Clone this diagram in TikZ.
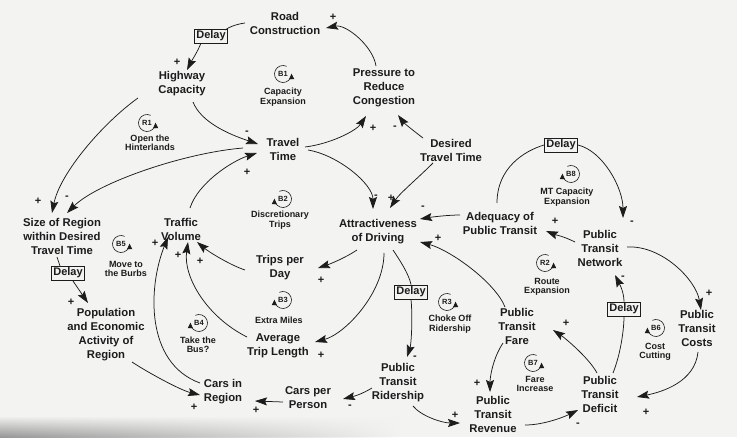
\documentclass[tikz,border=0pt]{standalone}
\usepackage{fontspec}
\setmainfont{Liberation Sans}
\usetikzlibrary{arrows.meta,calc,fadings}
\definecolor{paper}{RGB}{243,243,241}
\definecolor{ink}{RGB}{28,28,28}
\tikzfading[name=fadeR, left color=transparent!0, right color=transparent!100]
\begin{document}
\begin{tikzpicture}[x=1pt,y=-1pt,
  var/.style={font=\fontsize{11.3}{14}\selectfont\bfseries, align=center, text=ink, inner sep=0pt},
  sgn/.style={font=\fontsize{11}{12}\selectfont\bfseries, text=ink, inner sep=0pt},
  delaybox/.style={draw=ink, line width=0.6pt, font=\fontsize{11}{12}\selectfont\bfseries, text=ink, inner sep=2pt, minimum width=33pt, minimum height=13.5pt},
  looplbl/.style={font=\fontsize{9}{9.5}\selectfont\bfseries, align=center, text=ink, inner sep=0pt},
  loopsym/.style={font=\fontsize{7.5}{8}\selectfont\bfseries, text=ink, inner sep=0pt},
  arr/.style={draw=ink, line width=0.75pt, -{Stealth[length=12pt,width=8pt,inset=2pt]}},
  ln/.style={draw=ink, line width=0.75pt},
  looparr/.style={draw=ink, line width=0.6pt, -{Triangle[length=5.5pt,width=5pt]}},
]
\fill[paper] (0,0) rectangle (737,437);
\useasboundingbox (0,0) rectangle (737,437);
\shade[top color=paper, bottom color=gray!80!paper, path fading=fadeR] (0,416) rectangle (400,437);

% variables
\node[var] (rc) at (285,23) {Road\\Construction};
\node[var] (hc) at (182,84) {Highway\\Capacity};
\node[var] (pr) at (384,88) {Pressure to\\Reduce\\Congestion};
\node[var] (tt) at (283,149) {Travel\\Time};
\node[var] (dt) at (451,150) {Desired\\Travel Time};
\node[var] (sr) at (62,236) {Size of Region\\within Desired\\Travel Time};
\node[var] (tv) at (181,229) {Traffic\\Volume};
\node[var] (ad) at (378,232) {Attractiveness\\of Driving};
\node[var] (ap) at (500,223) {Adequacy of\\Public Transit};
\node[var] (pn) at (600,248) {Public\\Transit\\Network};
\node[var] (tp) at (280,268) {Trips per\\Day};
\node[var] (pe) at (106,335) {Population\\and Economic\\Activity of\\Region};
\node[var] (at) at (278,346) {Average\\Trip Length};
\node[var] (pc) at (697,328) {Public\\Transit\\Costs};
\node[var] (pf) at (517,326) {Public\\Transit\\Fare};
\node[var] (pd) at (600,394) {Public\\Transit\\Deficit};
\node[var] (prd) at (398,383) {Public\\Transit\\Ridership};
\node[var] (rev) at (493,414) {Public\\Transit\\Revenue};
\node[var] (cr) at (223,392) {Cars in\\Region};
\node[var] (cp) at (308,398) {Cars per\\Person};

% delays
\node[delaybox] (d1) at (211,36) {Delay};
\node[delaybox] (d2) at (68,273) {Delay};
\node[delaybox] (d3) at (561,145) {Delay};
\node[delaybox] (d4) at (411,292) {Delay};
\node[delaybox] (d5) at (624,309) {Delay};

% loop symbols and names
\node[loopsym] (B1) at (283,74) {B1};
\node[looplbl] (lB1) at (283,97) {Capacity\\Expansion};
\node[loopsym] (R1) at (147,123) {R1};
\node[looplbl] (lR1) at (150,143) {Open the\\Hinterlands};
\node[loopsym] (B2) at (283,199) {B2};
\node[looplbl] (lB2) at (280,220) {Discretionary\\Trips};
\node[loopsym] (B5) at (121,244) {B5};
\node[looplbl] (lB5) at (126,269) {Move to\\the Burbs};
\node[loopsym] (B3) at (283,300) {B3};
\node[looplbl] (lB3) at (279,320) {Extra Miles};
\node[loopsym] (B4) at (199,323) {B4};
\node[looplbl] (lB4) at (198,345) {Take the\\Bus?};
\node[loopsym] (B8) at (571,174) {B8};
\node[looplbl] (lB8) at (567,197) {MT Capacity\\Expansion};
\node[loopsym] (R2) at (545,263) {R2};
\node[looplbl] (lR2) at (547,287) {Route\\Expansion};
\node[loopsym] (R3) at (447,302) {R3};
\node[looplbl] (lR3) at (450,324) {Choke Off\\Ridership};
\node[loopsym] (B7) at (533,363) {B7};
\node[looplbl] (lB7) at (535,384) {Fare\\Increase};
\node[loopsym] (B6) at (656,328) {B6};
\node[looplbl] (lB6) at (655,352) {Cost\\Cutting};

\begin{scope}[y=1pt]
\foreach \n in {B1,R1,B5,R2,R3,B7}
  \draw[looparr] ([shift={(65:8.5)}]\n.center) arc[start angle=65,end angle=362,radius=8.5];
\foreach \n in {B2,B3,B4,B8,B6}
  \draw[looparr] ([shift={(115:8.5)}]\n.center) arc[start angle=115,end angle=-182,radius=8.5];
\end{scope}

% connectors
\draw[arr] ($(pr)+(-8,-22)$) .. controls +(-3,-20) and +(20,-4) .. ($(rc)+(41,5)$);
\draw[ln] ($(rc)+(-40,0)$) .. controls +(-8,1) and +(4,-3) .. ($(d1)+(14,-6)$);
\draw[arr] ($(d1)+(-10,7)$) .. controls +(-3,8) and +(4,-8) .. ($(hc)+(5,-14)$);
\draw[arr] ($(hc)+(11,18)$) .. controls +(8,20) and +(-30,-10) .. ($(tt)+(-25,-5)$);
\draw[arr] ($(hc)+(-44,14)$) .. controls +(-35,25) and +(8,-40) .. ($(sr)+(-10,-23)$);
\draw[arr] ($(tt)+(-40,-1)$) .. controls +(-60,5) and +(30,-30) .. ($(sr)+(5,-23)$);
\draw[arr] ($(tv)+(9,-21)$) .. controls +(8,-25) and +(-25,8) .. ($(tt)+(-26,4)$);
\draw[arr] ($(tt)+(22,-2)$) .. controls +(25,-3) and +(-10,15) .. ($(pr)+(-18,28)$);
\draw[arr] ($(dt)+(-28,-12)$) .. controls +(-8,-6) and +(6,8) .. ($(pr)+(14,27)$);
\draw[arr] ($(tt)+(25,1)$) .. controls +(30,5) and +(0,-25) .. ($(ad)+(-5,-23)$);
\draw[arr] ($(dt)+(-18,13)$) .. controls +(-15,15) and +(10,-15) .. ($(ad)+(12,-24)$);
\draw[arr] ($(ap)+(-40,-8)$) .. controls +(-12,0) and +(12,-2) .. ($(ad)+(42,-13)$);
\draw[arr] ($(pn)+(-25,-6)$) .. controls +(-12,-6) and +(10,4) .. ($(ap)+(46,8)$);
\draw[ln] ($(ap)+(-3,-20)$) .. controls +(0,-35) and +(-20,6) .. (d3.west);
\draw[arr] (d3.east) .. controls +(25,6) and +(0,-30) .. ($(pn)+(23,-30)$);
\draw[arr] ($(pn)+(27,-1)$) .. controls +(35,-2) and +(-5,-30) .. ($(pc)+(4,-18)$);
\draw[arr] ($(pc)+(1,24)$) .. controls +(-3,30) and +(25,-5) .. ($(pd)+(37,3)$);
\draw[ln] ($(pd)+(13,-21)$) .. controls +(8,-20) and +(0,12) .. (d5.south);
\draw[arr] (d5.north) .. controls +(0,-10) and +(4,8) .. ($(pn)+(15,27)$);
\draw[arr] ($(pd)+(-3,-21)$) .. controls +(-8,-15) and +(12,8) .. ($(pf)+(36,4)$);
\draw[arr] ($(pf)+(-12,-19)$) .. controls +(-10,-25) and +(30,8) .. ($(ad)+(42,10)$);
\draw[arr] ($(pf)+(-14,17)$) .. controls +(-10,15) and +(0,-15) .. ($(rev)+(-3,-22)$);
\draw[arr] ($(rev)+(32,11)$) .. controls +(20,0) and +(-12,6) .. ($(pd)+(-22,16)$);
\draw[ln] ($(ad)+(15,18)$) .. controls +(8,12) and +(-2,-10) .. (d4.north);
\draw[arr] (d4.south) .. controls +(2,20) and +(4,-12) .. ($(prd)+(9,-26)$);
\draw[arr] ($(prd)+(15,23)$) .. controls +(8,10) and +(-18,0) .. ($(rev)+(-33,9)$);
\draw[arr] ($(prd)+(-26,5)$) .. controls +(-10,6) and +(12,-3) .. ($(cp)+(35,1)$);
\draw[arr] ($(cp)+(-25,4)$) -- ($(cr)+(32,9)$);
\draw[arr] ($(pe)+(26,27)$) .. controls +(15,10) and +(-20,-5) .. ($(cr)+(-23,3)$);
\draw[ln] ($(sr)+(-5,21)$) -- ($(d2)+(-8,-7)$);
\draw[arr] ($(d2)+(5,8)$) -- ($(pe)+(-18,-32)$);
\draw[arr] ($(cr)+(-23,-9)$) .. controls +(-55,-20) and +(-20,50) .. ($(tv)+(-13,8)$);
\draw[arr] ($(at)+(-31,-9)$) .. controls +(-40,-20) and +(-5,35) .. ($(tv)+(7,13)$);
\draw[arr] ($(tp)+(-35,2)$) .. controls +(-15,-5) and +(12,10) .. ($(tv)+(16,13)$);
\draw[arr] ($(ad)+(-21,18)$) .. controls +(-12,8) and +(12,-4) .. ($(tp)+(38,0)$);
\draw[arr] ($(ad)+(6,21)$) .. controls +(0,40) and +(30,-8) .. ($(at)+(37,-4)$);

% polarities
\node[sgn] (s1) at (333,17) {+};
\node[sgn] (s2) at (177,62) {+};
\node[sgn] (s3) at (247,133) {-};
\node[sgn] (s4) at (247,172) {+};
\node[sgn] (s5) at (373,128) {+};
\node[sgn] (s6) at (395,128) {-};
\node[sgn] (s7) at (38,201) {+};
\node[sgn] (s8) at (67,198) {-};
\node[sgn] (s9) at (376,197) {-};
\node[sgn] (s10) at (391,198) {+};
\node[sgn] (s11) at (423,208) {-};
\node[sgn] (s12) at (438,238) {+};
\node[sgn] (s13) at (555,221) {+};
\node[sgn] (s14) at (632,223) {-};
\node[sgn] (s15) at (623,278) {-};
\node[sgn] (s16) at (709,293) {+};
\node[sgn] (s17) at (646,412) {+};
\node[sgn] (s18) at (566,323) {+};
\node[sgn] (s19) at (477,383) {+};
\node[sgn] (s20) at (578,425) {-};
\node[sgn] (s21) at (455,415) {+};
\node[sgn] (s22) at (415,358) {-};
\node[sgn] (s23) at (350,407) {-};
\node[sgn] (s24) at (256,410) {+};
\node[sgn] (s25) at (194,407) {+};
\node[sgn] (s26) at (71,302) {+};
\node[sgn] (s27) at (155,243) {+};
\node[sgn] (s28) at (178,255) {+};
\node[sgn] (s29) at (200,261) {+};
\node[sgn] (s30) at (321,280) {+};
\node[sgn] (s31) at (321,355) {+};
\end{tikzpicture}
\end{document}
